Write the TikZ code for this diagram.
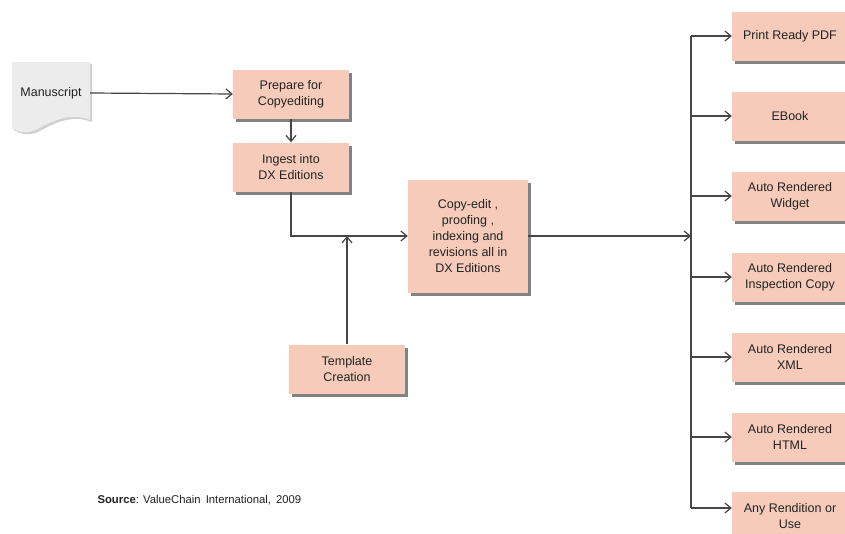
\documentclass[tikz,border=0pt]{standalone}
\usepackage{fontspec}
\setmainfont{Liberation Sans}
\usetikzlibrary{arrows.meta,shadows,calc}
\definecolor{boxfill}{RGB}{246,203,186}
\definecolor{linecol}{RGB}{70,70,70}
\definecolor{txtcol}{RGB}{35,35,35}
\definecolor{docfill}{RGB}{236,236,236}
\begin{document}
\begin{tikzpicture}[x=1pt,y=-1pt,
  every node/.style={font=\fontsize{12.5}{16}\selectfont, text=txtcol},
  pbox/.style={fill=boxfill, minimum width=116pt, minimum height=49pt, align=center, inner sep=2pt,
    drop shadow={shadow xshift=2.5pt, shadow yshift=-3pt, fill=black!65, opacity=0.75}},
  conn/.style={draw=linecol, line width=1.2pt, -{Straight Barb[length=6pt,width=10pt,line width=1.2pt]}},
  plain/.style={draw=linecol, line width=1.2pt}
]
\useasboundingbox (0,0) rectangle (845,533);
\fill[white] (0,0) rectangle (845,533);

% manuscript document shape
\path[fill=docfill, drop shadow={shadow xshift=2pt, shadow yshift=-2pt, fill=black!30, opacity=0.6}]
  (12,62) -- (90,62) -- (90,120) .. controls (70,112) and (52,121) .. (36,130)
  .. controls (26,134) and (18,132) .. (12,128) -- cycle;
\node[minimum width=78pt, minimum height=20pt, inner sep=0pt] (man) at (51,93) {Manuscript};

\node[pbox] (prep) at (291,94) {Prepare for\\Copyediting};
\node[pbox] (ingest) at (291,167) {Ingest into\\DX Editions};
\node[pbox, minimum width=120pt, minimum height=113pt] (copy) at (468,236) {Copy-edit ,\\proofing ,\\indexing and\\revisions all in\\DX Editions};
\node[pbox] (tmpl) at (347,369) {Template\\Creation};

\node[pbox] (o1) at (790,36) {Print Ready PDF};
\node[pbox] (o2) at (790,116) {EBook};
\node[pbox] (o3) at (790,196) {Auto Rendered\\Widget};
\node[pbox] (o4) at (790,277) {Auto Rendered\\Inspection Copy};
\node[pbox] (o5) at (790,357) {Auto Rendered\\XML};
\node[pbox] (o6) at (790,437) {Auto Rendered\\HTML};
\node[pbox] (o7) at (790,516) {Any Rendition or\\Use};

\node[anchor=west, font=\fontsize{11.3}{13}\selectfont] (src) at (94,500) {\textbf{Source}: ValueChain\, International,\, 2009};

% connectors
\draw[conn] (man.east) -- (prep.west);
\draw[conn] (prep.south) -- (ingest.north);
\draw[conn] (ingest.south) |- (copy.west);
\coordinate (join) at (tmpl.north |- copy.west);
\draw[conn] (tmpl.north) -- (join);
\coordinate (busx) at (691,0);
\coordinate (bus) at (copy.east -| busx);
\coordinate (o7in) at ([yshift=8pt]o7.west);
\draw[conn] (copy.east) -- (bus);
\draw[plain] (busx |- o1.west) -- (busx |- o7in);
\foreach \o in {o1,o2,o3,o4,o5,o6}{
  \draw[conn] (busx |- \o.west) -- (\o.west);
}
\draw[conn] (busx |- o7in) -- (o7in);
\end{tikzpicture}
\end{document}
